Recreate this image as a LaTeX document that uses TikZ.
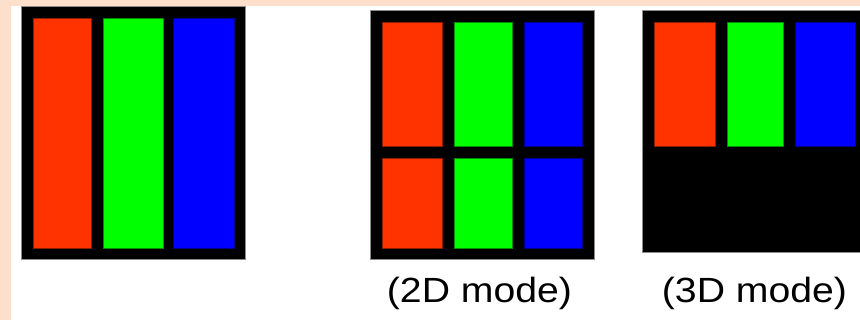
\documentclass[tikz,border=0pt]{standalone}
\usepackage{fontspec}
\setmainfont{Liberation Sans}
\usepackage{xcolor}
\usepackage{tikz}
\usetikzlibrary{positioning}
\definecolor{peach}{RGB}{253,224,204}
\definecolor{subred}{RGB}{255,51,0}
\definecolor{subgreen}{RGB}{0,255,0}
\definecolor{subblue}{RGB}{0,0,255}
\definecolor{rimgray}{RGB}{140,140,140}
\tikzset{
    panel/.style = {fill=black, draw=rimgray, line width=0.6pt},
    cell/.style = {line width=0.5pt},
    caption/.style = {anchor=base, inner sep=0pt, font=\fontsize{35}{38}\selectfont}
}

\begin{document}
\begin{tikzpicture}[x=1pt, y=-1pt]
\useasboundingbox (0,0) rectangle (860,320);
% Background
\fill[white] (0,0) rectangle (860,320);
\fill[peach] (0,0) rectangle (11,320);
\fill[peach] (0,0) rectangle (860,6);

% Plain pixel
\draw[panel] (21,6) rectangle (245,259);
\foreach \xa/\xb/\col in {33/91/subred, 103/163/subgreen, 173/234/subblue}
    \draw[cell, fill=\col, draw=\col!55!black] (\xa,18) rectangle (\xb,248);

% 2D mode pixel
\draw[panel] (370,10) rectangle (594,259);
\foreach \xa/\xb/\col in {382/442/subred, 454/512/subgreen, 524/582/subblue} {
    \draw[cell, fill=\col, draw=\col!55!black] (\xa,22) rectangle (\xb,146);
    \draw[cell, fill=\col, draw=\col!55!black] (\xa,158) rectangle (\xb,248);
}

% 3D mode pixel
\draw[panel] (642,10) rectangle (866,252);
\foreach \xa/\xb/\col in {654/715/subred, 727/783/subgreen, 795/855/subblue}
    \draw[cell, fill=\col, draw=\col!55!black] (\xa,22) rectangle (\xb,146);

% Captions
\node (cap2d) [caption] at (479.5,303) {\scalebox{1.12}[1]{(2D mode)}};
\node (cap3d) [caption] at (754.5,303) {\scalebox{1.12}[1]{(3D mode)}};

\end{tikzpicture}
\end{document}
